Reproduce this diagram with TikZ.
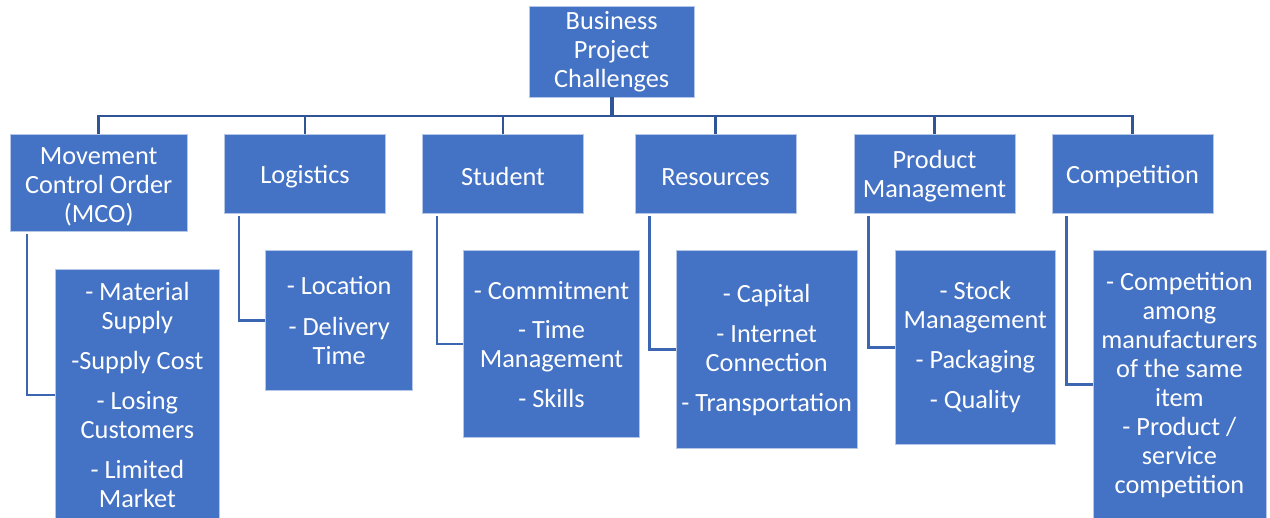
\documentclass[tikz,border=0pt]{standalone}
\usepackage{fontspec}
\setmainfont{Carlito}
\definecolor{boxblue}{HTML}{4472C4}
\definecolor{edgeblue}{HTML}{B4C7E7}
\definecolor{topline}{HTML}{2F5597}
\definecolor{subline}{HTML}{3C66B2}
\newcommand\myTopStrut{\rule{0pt}{24pt}}
\tikzset{
  box/.style={rectangle, fill=boxblue, draw=edgeblue, line width=0.8pt, text=white,
    inner sep=0pt, align=center, font=\fontsize{26.3}{29}\selectfont},
  treeline/.style={draw=topline, line width=2.6pt, line join=miter},
  stemline/.style={draw=topline, line width=3.6pt},
  subconn/.style={draw=subline, line width=2.6pt, line join=miter}
}
\begin{document}
\begin{tikzpicture}[x=1pt,y=-1pt]
\useasboundingbox (0,0) rectangle (1270,518);
\clip (0,0) rectangle (1270,518);

% root
\node[box, minimum width=165.5pt, minimum height=91pt] (root) at (611.7,51.5) {Business\\Project\\Challenges};

% level 1
\node[box, minimum width=177pt, minimum height=97.7pt] (mco) at (98.7,182.9) {\myTopStrut Movement\\Control Order\\(MCO)};
\node[box, minimum width=161.2pt, minimum height=79pt] (log) at (305.1,173.5) {\myTopStrut Logistics};
\node[box, minimum width=161.3pt, minimum height=79pt] (stu) at (503,173.5) {\myTopStrut Student};
\node[box, minimum width=161.2pt, minimum height=79pt] (res) at (715.5,173.5) {\myTopStrut Resources};
\node[box, minimum width=161pt, minimum height=79pt] (pm) at (934.5,173.5) {\myTopStrut Product\\Management};
\node[box, minimum width=161pt, minimum height=79pt] (comp) at (1132.5,173.5) {\myTopStrut Competition};

% level 2
\node[box, minimum width=163.7pt, minimum height=252pt] (mcosub) at (137.4,395)
  {- Material\\Supply\\[11pt]-Supply Cost\\[11pt]- Losing\\Customers\\[11pt]- Limited\\Market};
\node[box, minimum width=147pt, minimum height=139.6pt] (logsub) at (339.2,320.5)
  {- Location\\[12pt]- Delivery\\Time};
\node[box, minimum width=175.5pt, minimum height=187pt] (stusub) at (551.5,344.2)
  {- Commitment\\[10pt]- Time\\Management\\[11pt]- Skills};
\node[box, minimum width=181.2pt, minimum height=198pt] (ressub) at (766.7,349.7)
  {- Capital\\[11pt]- Internet\\Connection\\[11pt]- Transportation};
\node[box, minimum width=160.8pt, minimum height=193.3pt] (pmsub) at (975.3,347.4)
  {- Stock\\Management\\[11pt]- Packaging\\[11pt]- Quality};
\node[box, minimum width=173pt, minimum height=268pt] (compsub) at (1179.4,384.7)
  {- Competition\\among\\manufacturers\\of the same\\item\\- Product /\\service\\competition};

% tree connectors
\coordinate (bar) at (0,116);
\draw[stemline] (root.south) -- (root.south |- bar);
\foreach \c in {mco,log,stu,res,pm,comp}{
  \draw[treeline] (root.south |- bar) -- (\c.north |- bar) -- (\c.north);
}

% sub connectors
\coordinate (mcoc) at ([xshift=17pt,yshift=-2pt]mco.south west);
\coordinate (logc) at ([xshift=14.7pt,yshift=-3pt]log.south west);
\coordinate (stuc) at ([xshift=15.2pt,yshift=-3pt]stu.south west);
\coordinate (resc) at ([xshift=14.7pt,yshift=-3pt]res.south west);
\coordinate (pmc) at ([xshift=14.8pt,yshift=-3pt]pm.south west);
\coordinate (compc) at ([xshift=15pt,yshift=-3pt]comp.south west);
\draw[subconn] (mcoc) |- (mcosub.west);
\draw[subconn] (logc) |- (logsub.west);
\draw[subconn] (stuc) |- (stusub.west);
\draw[subconn] (resc) |- (ressub.west);
\draw[subconn] (pmc) |- (pmsub.west);
\draw[subconn] (compc) |- (compsub.west);
\end{tikzpicture}
\end{document}
